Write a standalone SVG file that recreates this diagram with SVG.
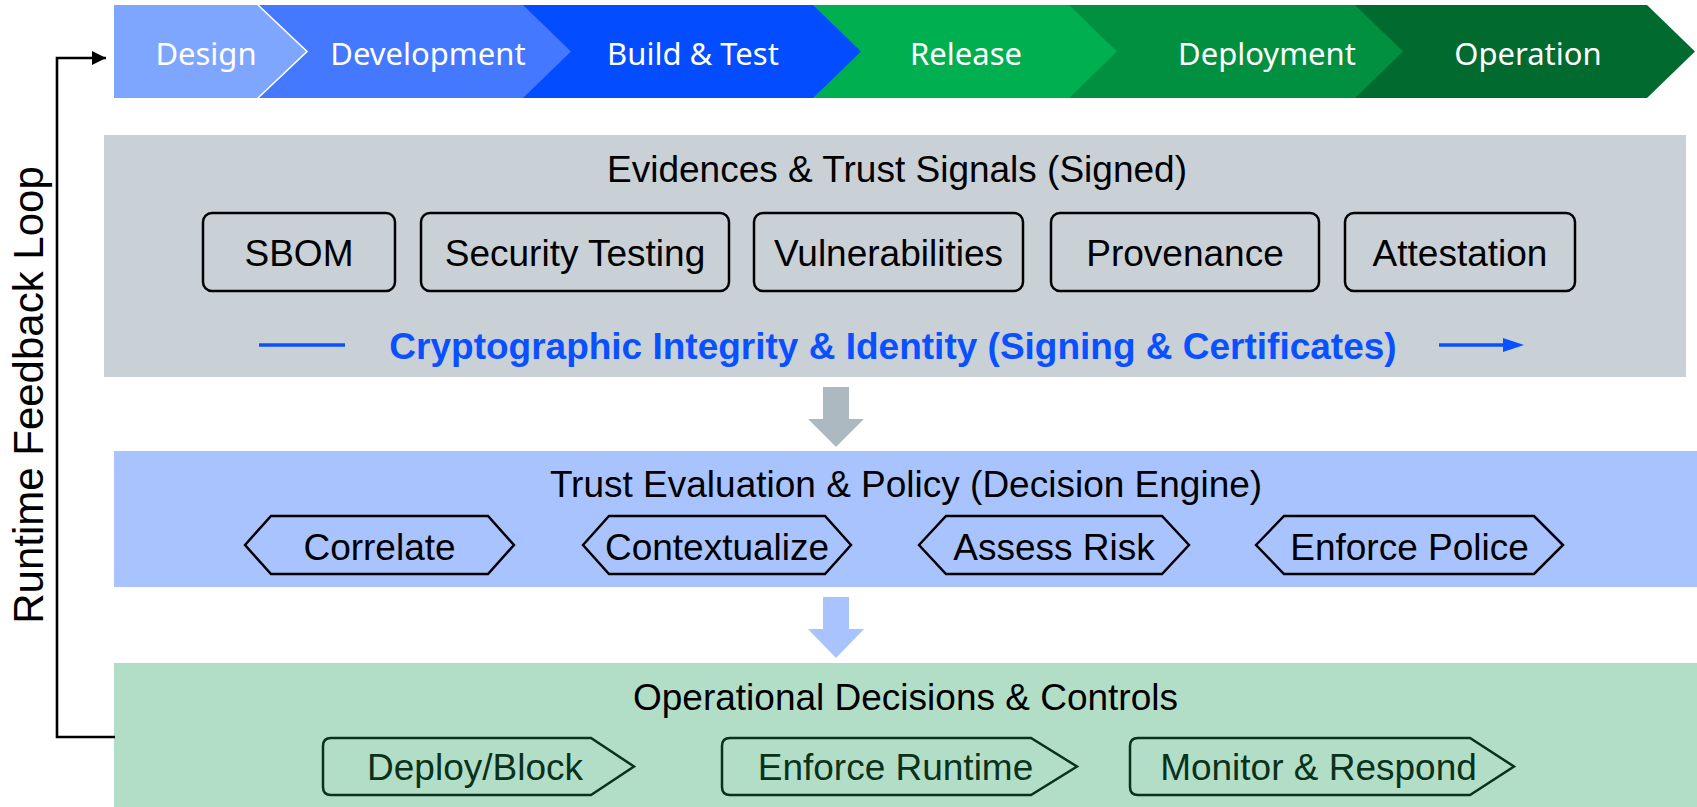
<svg xmlns="http://www.w3.org/2000/svg" width="1697" height="807" viewBox="0 0 1697 807">
  <style>
    .phase { font-family: "Noto Sans", "Open Sans", sans-serif; font-size: 31px; fill: #ffffff; text-anchor: middle; }
    .title { font-family: "Liberation Sans", Arial, sans-serif; font-size: 37px; fill: #000000; text-anchor: middle; }
    .label { font-family: "Liberation Sans", Arial, sans-serif; font-size: 37px; fill: #000000; text-anchor: middle; }
    .glabel { font-family: "Liberation Sans", Arial, sans-serif; font-size: 37px; fill: #0a321a; text-anchor: middle; }
    .crypto { font-family: "Liberation Sans", Arial, sans-serif; font-size: 37px; font-weight: bold; fill: #0a50ff; text-anchor: middle; }
    .loop { font-family: "Liberation Sans", Arial, sans-serif; font-size: 42px; fill: #000000; text-anchor: middle; }
    .ebox { fill: #c9d1d7; stroke: #000000; stroke-width: 2.5; }
    .hex { fill: #a9c3ff; stroke: #000000; stroke-width: 2.5; }
    .pent { fill: #b2dec8; stroke: #0a321a; stroke-width: 2.5; }
    .wire { fill: none; stroke: #000000; stroke-width: 2.6; }
  </style>
  <defs>
    <marker id="blackHead" viewBox="0 0 10 10" refX="10" refY="5" markerWidth="18" markerHeight="14" markerUnits="userSpaceOnUse" orient="auto">
      <path d="M0,0 L10,5 L0,10 Z" fill="#000000"/>
    </marker>
  </defs>

  <!-- lifecycle phase chevrons, drawn right to left so each tip overlaps the next -->
  <g id="phases">
    <g id="phase-operation">
      <polygon points="1355,5 1647,5 1695,51.5 1647,98 1355,98" fill="#006a2f"/>
      <text class="phase" x="1528" y="65">Operation</text>
    </g>
    <g id="phase-deployment">
      <polygon points="1069,5 1355,5 1403,51.5 1355,98 1069,98" fill="#00903f"/>
    </g>
    <g id="phase-release">
      <polygon points="813,5 1069,5 1117,51.5 1069,98 813,98" fill="#00af50"/>
      <text class="phase" x="966" y="65">Release</text>
    </g>
    <g id="phase-build">
      <polygon points="523,5 813,5 861,51.5 813,98 523,98" fill="#034cff"/>
      <text class="phase" x="693" y="65">Build &amp; Test</text>
    </g>
    <g id="phase-development">
      <polygon points="258,5 523,5 571,51.5 523,98 258,98" fill="#4479ff"/>
    </g>
    <g id="phase-design">
      <polygon points="114,5 258,5 307,51.5 258,98 114,98" fill="#7fa6ff"/>
      <polyline points="258,5 307,51.5 258,98" fill="none" stroke="#ffffff" stroke-width="1.6"/>
      <text class="phase" x="206" y="65">Design</text>
    </g>
    <text class="phase" x="428" y="65">Development</text>
    <text class="phase" x="1267" y="65">Deployment</text>
  </g>

  <!-- evidence layer -->
  <g id="evidence">
    <rect x="104" y="135" width="1582" height="242" fill="#c9d1d7"/>
    <text class="title" x="897" y="182">Evidences &amp; Trust Signals (Signed)</text>
    <g id="ev-sbom">
      <rect class="ebox" x="203" y="213" width="192" height="78" rx="9"/>
      <text class="label" x="299" y="266">SBOM</text>
    </g>
    <g id="ev-security-testing">
      <rect class="ebox" x="421" y="213" width="308" height="78" rx="9"/>
      <text class="label" x="575" y="266">Security Testing</text>
    </g>
    <g id="ev-vulnerabilities">
      <rect class="ebox" x="754" y="213" width="269" height="78" rx="9"/>
      <text class="label" x="888.5" y="266">Vulnerabilities</text>
    </g>
    <g id="ev-provenance">
      <rect class="ebox" x="1051" y="213" width="268" height="78" rx="9"/>
      <text class="label" x="1185" y="266">Provenance</text>
    </g>
    <g id="ev-attestation">
      <rect class="ebox" x="1345" y="213" width="230" height="78" rx="9"/>
      <text class="label" x="1460" y="266">Attestation</text>
    </g>
    <g id="crypto-band">
      <line x1="259" y1="345" x2="345" y2="345" stroke="#0a50ff" stroke-width="3.5"/>
      <line x1="1439" y1="345" x2="1506" y2="345" stroke="#0a50ff" stroke-width="3.5"/>
      <polygon points="1503,338 1524,345 1503,352" fill="#0a50ff"/>
      <text class="crypto" x="893" y="359">Cryptographic Integrity &amp; Identity (Signing &amp; Certificates)</text>
    </g>
  </g>

  <!-- decision engine layer -->
  <g id="evaluation">
    <rect x="114" y="451" width="1583" height="136" fill="#a9c3ff"/>
    <text class="title" x="906" y="497">Trust Evaluation &amp; Policy (Decision Engine)</text>
    <g id="ev-correlate">
      <polygon class="hex" points="245,545 271,516 488,516 514,545 488,574 271,574"/>
      <text class="label" x="379.5" y="560">Correlate</text>
    </g>
    <g id="ev-contextualize">
      <polygon class="hex" points="583,545 609,516 825,516 851,545 825,574 609,574"/>
      <text class="label" x="717" y="560">Contextualize</text>
    </g>
    <g id="ev-assess-risk">
      <polygon class="hex" points="919,545 946,516 1162,516 1189,545 1162,574 946,574"/>
      <text class="label" x="1054" y="560">Assess Risk</text>
    </g>
    <g id="ev-enforce-police">
      <polygon class="hex" points="1256,545 1284,516 1534,516 1563,545 1534,574 1284,574"/>
      <text class="label" x="1409.5" y="560">Enforce Police</text>
    </g>
  </g>

  <!-- operational layer -->
  <g id="operations">
    <rect x="114" y="663" width="1583" height="144" fill="#b2dec8"/>
    <text class="title" x="905.5" y="710">Operational Decisions &amp; Controls</text>
    <g id="op-deploy-block">
      <path class="pent" d="M331,738 H591 L634,766.5 L591,795 H331 Q323,795 323,787 V746 Q323,738 331,738 Z"/>
      <text class="glabel" x="475" y="780">Deploy/Block</text>
    </g>
    <g id="op-enforce-runtime">
      <path class="pent" d="M730,738 H1031 L1077,766.5 L1031,795 H730 Q722,795 722,787 V746 Q722,738 730,738 Z"/>
      <text class="glabel" x="895.5" y="780">Enforce Runtime</text>
    </g>
    <g id="op-monitor-respond">
      <path class="pent" d="M1138,738 H1470 L1514,766.5 L1470,795 H1138 Q1130,795 1130,787 V746 Q1130,738 1138,738 Z"/>
      <text class="glabel" x="1318.5" y="780">Monitor &amp; Respond</text>
    </g>
  </g>

  <!-- flow arrows and the runtime feedback loop -->
  <g id="connectors">
    <polygon id="flow-evidence-to-eval" points="823,387 849,387 849,419 864,419 836,447 808,419 823,419" fill="#adb9c1"/>
    <polygon id="flow-eval-to-ops" points="823,597 849,597 849,629 864,629 836,658 808,629 823,629" fill="#a9c3ff"/>
    <polyline id="feedback-loop" class="wire" points="115,737 57,737 57,58 106,58" marker-end="url(#blackHead)"/>
    <text class="loop" transform="translate(43,395) rotate(-90)">Runtime Feedback Loop</text>
  </g>
</svg>
